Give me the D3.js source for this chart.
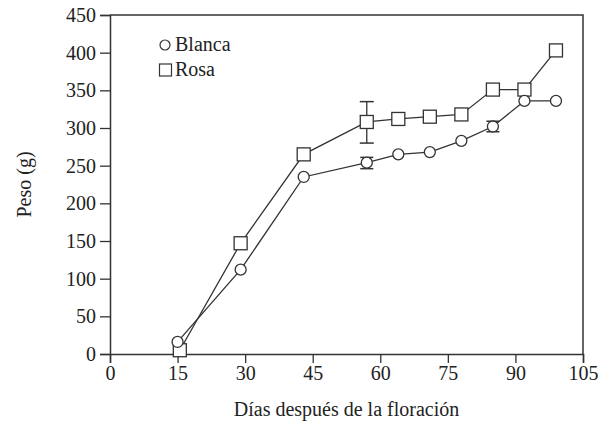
<!DOCTYPE html>
<meta charset="utf-8" />
<script src="https://d3js.org/d3.v7.min.js"></script>
<style>
  body { margin: 0; background: #fff; }
  text { font-family: "Liberation Serif", "Times New Roman", serif; fill: #222; }
</style>
<body>
<div id="chart"></div>
<script>
  // data
  var blancaDays = [15, 29, 43, 57, 64, 71, 78, 85, 92, 99];
  var blancaPeso = [16, 112, 235, 254, 265, 268, 283, 302, 336, 336];
  var rosaDays = [15.5, 29, 43, 57, 64, 71, 78, 85, 92, 99];
  var rosaPeso = [5, 147, 265, 308, 312, 315, 318, 351, 351, 403];
  // error bars: [day, low, high]
  var blancaErr = [[57, 246, 261], [85, 295, 309]];
  var rosaErr = [[57, 280, 335]];
  var xTicks = [0, 15, 30, 45, 60, 75, 90, 105];
  var yTicks = [0, 50, 100, 150, 200, 250, 300, 350, 400, 450];

  var width = 606, height = 425;
  var margin = { top: 15, right: 23, bottom: 71, left: 110 };
  var w = width - margin.left - margin.right,
    h = height - margin.top - margin.bottom;

  var svg = d3.select("#chart").append("svg")
    .attr("width", width).attr("height", height);
  var g = svg.append("g")
    .attr("transform", "translate(" + margin.left + "," + margin.top + ")");

  var x = d3.scaleLinear().domain([0, 105]).range([0, w]);
  var y = d3.scaleLinear().domain([0, 450]).range([h, 0]);

  var ink = "#333";

  // frame (top and right)
  g.append("path")
    .attr("d", "M0,0H" + w + "V" + h)
    .attr("fill", "none").attr("stroke", ink).attr("stroke-width", 1.5);

  var xAxis = g.append("g")
    .attr("transform", "translate(0," + h + ")")
    .call(d3.axisBottom(x).tickValues(xTicks).tickSizeOuter(0).tickSize(9).tickPadding(3));
  var yAxis = g.append("g")
    .call(d3.axisLeft(y).tickValues(yTicks).tickSizeOuter(0).tickSize(10).tickPadding(4));
  [xAxis, yAxis].forEach(function(a) {
    a.select(".domain").attr("stroke", ink).attr("stroke-width", 1.5);
    a.selectAll(".tick line").attr("stroke", ink).attr("stroke-width", 1.3);
    a.selectAll("text").style("font-size", "20px")
      .style("font-family", "Liberation Serif").attr("fill", "#222");
  });

  // axis titles
  svg.append("text")
    .attr("x", margin.left + w / 2).attr("y", 416)
    .attr("text-anchor", "middle").style("font-size", "20px")
    .text("Días después de la floración");
  svg.append("text")
    .attr("transform", "translate(31," + (margin.top + h / 2) + ") rotate(-90)")
    .attr("text-anchor", "middle").style("font-size", "20px")
    .text("Peso (g)");

  var line = d3.line()
    .x(function(d) { return x(d[0]); })
    .y(function(d) { return y(d[1]); });

  var blanca = blancaDays.map(function(d, i) { return [d, blancaPeso[i]]; });
  var rosa = rosaDays.map(function(d, i) { return [d, rosaPeso[i]]; });

  function errBars(data, cap) {
    data.forEach(function(e) {
      var cx = x(e[0]);
      g.append("line").attr("x1", cx).attr("x2", cx)
        .attr("y1", y(e[1])).attr("y2", y(e[2]))
        .attr("stroke", ink).attr("stroke-width", 1.3);
      [e[1], e[2]].forEach(function(v) {
        g.append("line").attr("x1", cx - cap / 2).attr("x2", cx + cap / 2)
          .attr("y1", y(v)).attr("y2", y(v))
          .attr("stroke", ink).attr("stroke-width", 1.5);
      });
    });
  }

  errBars(rosaErr, 14);
  errBars(blancaErr, 13);

  g.append("path").datum(blanca).attr("d", line)
    .attr("fill", "none").attr("stroke", ink).attr("stroke-width", 1.3);
  g.append("path").datum(rosa).attr("d", line)
    .attr("fill", "none").attr("stroke", ink).attr("stroke-width", 1.3);

  g.selectAll(".sq").data(rosa).enter().append("rect")
    .attr("x", function(d) { return x(d[0]) - 6.5; })
    .attr("y", function(d) { return y(d[1]) - 6.5; })
    .attr("width", 13).attr("height", 13)
    .attr("fill", "#fff").attr("stroke", ink).attr("stroke-width", 1.3);
  g.selectAll(".ci").data(blanca).enter().append("circle")
    .attr("cx", function(d) { return x(d[0]); })
    .attr("cy", function(d) { return y(d[1]); })
    .attr("r", 5.5)
    .attr("fill", "#fff").attr("stroke", ink).attr("stroke-width", 1.3);

  // legend
  svg.append("circle").attr("cx", 165).attr("cy", 45).attr("r", 5)
    .attr("fill", "#fff").attr("stroke", ink).attr("stroke-width", 1.2);
  svg.append("text").attr("x", 175).attr("y", 51).style("font-size", "20px").text("Blanca");
  svg.append("rect").attr("x", 159.5).attr("y", 64).attr("width", 12).attr("height", 12)
    .attr("fill", "#fff").attr("stroke", ink).attr("stroke-width", 1.2);
  svg.append("text").attr("x", 175).attr("y", 76).style("font-size", "20px").text("Rosa");
</script>
</body>
